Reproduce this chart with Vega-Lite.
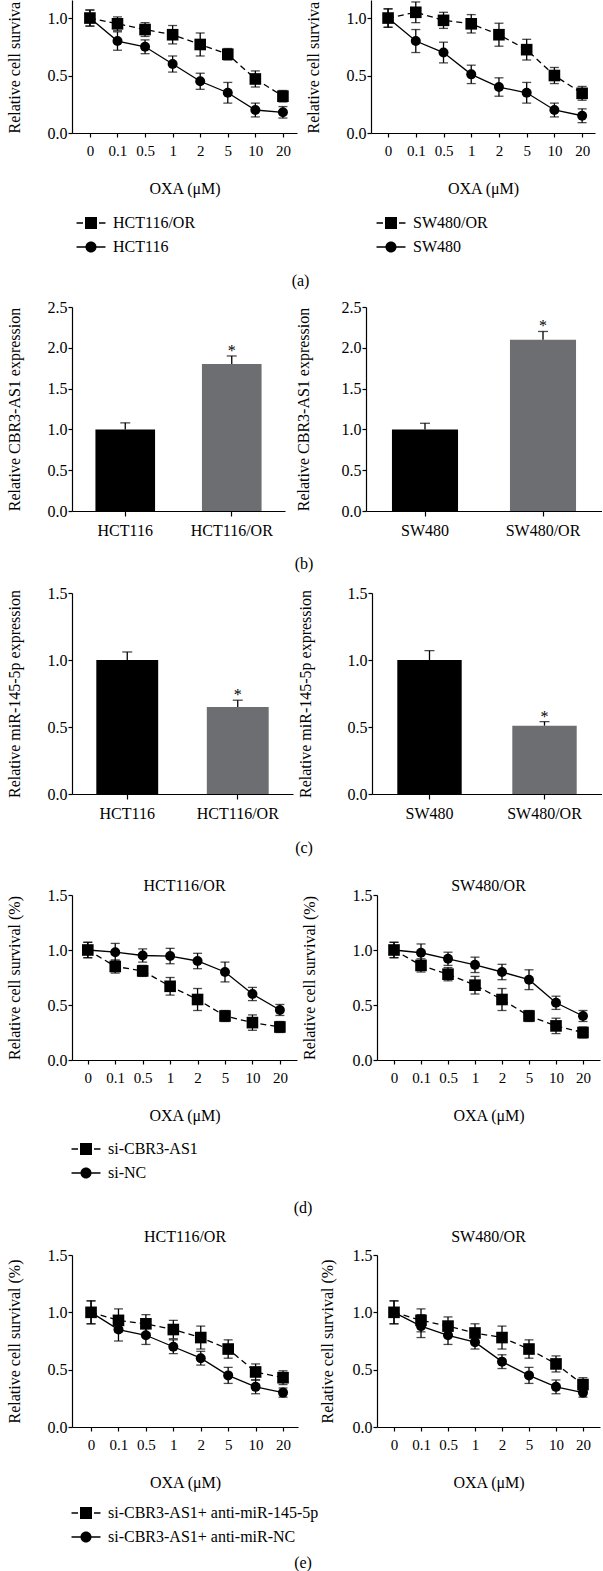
{
"$schema": "https://vega.github.io/schema/vega-lite/v6.json",
"padding": {"left": 6, "top": 0, "right": 0, "bottom": 0},
"config": {
  "font": "Liberation Serif",
  "view": {"stroke": null},
  "axis": {"domainColor": "#000", "tickColor": "#000", "labelColor": "#000", "titleColor": "#000", "titleFontWeight": "normal", "domainWidth": 1.2, "tickWidth": 1.2, "grid": false, "labelFont": "Liberation Serif", "titleFont": "Liberation Serif"},
  "legend": {"labelFont": "Liberation Serif", "labelFontSize": 16, "labelColor": "#000", "symbolSize": 256, "symbolStrokeWidth": 0, "symbolFillColor": "#000", "labelOffset": 14, "rowPadding": 8, "padding": 0, "labelLimit": 400},
  "title": {"font": "Liberation Serif", "fontSize": 16, "fontWeight": "normal", "color": "#000"}
},
"datasets": {
  "lines": [
    {"p":"a1","k":"sq","d":"0","v":1.0,"e":0.07},{"p":"a1","k":"sq","d":"0.1","v":0.95,"e":0.06},{"p":"a1","k":"sq","d":"0.5","v":0.90,"e":0.06},{"p":"a1","k":"sq","d":"1","v":0.855,"e":0.08},{"p":"a1","k":"sq","d":"2","v":0.77,"e":0.10},{"p":"a1","k":"sq","d":"5","v":0.685,"e":0.05},{"p":"a1","k":"sq","d":"10","v":0.47,"e":0.07},{"p":"a1","k":"sq","d":"20","v":0.32,"e":0.05},
    {"p":"a1","k":"ci","d":"0","v":1.0,"e":0.07},{"p":"a1","k":"ci","d":"0.1","v":0.80,"e":0.08},{"p":"a1","k":"ci","d":"0.5","v":0.75,"e":0.06},{"p":"a1","k":"ci","d":"1","v":0.60,"e":0.07},{"p":"a1","k":"ci","d":"2","v":0.45,"e":0.07},{"p":"a1","k":"ci","d":"5","v":0.35,"e":0.09},{"p":"a1","k":"ci","d":"10","v":0.20,"e":0.06},{"p":"a1","k":"ci","d":"20","v":0.18,"e":0.05},
    {"p":"a2","k":"sq","d":"0","v":1.0,"e":0.08},{"p":"a2","k":"sq","d":"0.1","v":1.05,"e":0.09},{"p":"a2","k":"sq","d":"0.5","v":0.98,"e":0.07},{"p":"a2","k":"sq","d":"1","v":0.95,"e":0.08},{"p":"a2","k":"sq","d":"2","v":0.855,"e":0.10},{"p":"a2","k":"sq","d":"5","v":0.725,"e":0.09},{"p":"a2","k":"sq","d":"10","v":0.50,"e":0.07},{"p":"a2","k":"sq","d":"20","v":0.345,"e":0.06},
    {"p":"a2","k":"ci","d":"0","v":1.0,"e":0.08},{"p":"a2","k":"ci","d":"0.1","v":0.80,"e":0.10},{"p":"a2","k":"ci","d":"0.5","v":0.70,"e":0.09},{"p":"a2","k":"ci","d":"1","v":0.51,"e":0.08},{"p":"a2","k":"ci","d":"2","v":0.40,"e":0.08},{"p":"a2","k":"ci","d":"5","v":0.35,"e":0.09},{"p":"a2","k":"ci","d":"10","v":0.20,"e":0.06},{"p":"a2","k":"ci","d":"20","v":0.15,"e":0.06},
    {"p":"d1","k":"sq","d":"0","v":1.0,"e":0.07},{"p":"d1","k":"sq","d":"0.1","v":0.85,"e":0.06},{"p":"d1","k":"sq","d":"0.5","v":0.81,"e":0.05},{"p":"d1","k":"sq","d":"1","v":0.67,"e":0.08},{"p":"d1","k":"sq","d":"2","v":0.55,"e":0.10},{"p":"d1","k":"sq","d":"5","v":0.40,"e":0.05},{"p":"d1","k":"sq","d":"10","v":0.34,"e":0.07},{"p":"d1","k":"sq","d":"20","v":0.30,"e":0.05},
    {"p":"d1","k":"ci","d":"0","v":1.0,"e":0.07},{"p":"d1","k":"ci","d":"0.1","v":0.98,"e":0.08},{"p":"d1","k":"ci","d":"0.5","v":0.95,"e":0.06},{"p":"d1","k":"ci","d":"1","v":0.945,"e":0.07},{"p":"d1","k":"ci","d":"2","v":0.90,"e":0.07},{"p":"d1","k":"ci","d":"5","v":0.80,"e":0.09},{"p":"d1","k":"ci","d":"10","v":0.60,"e":0.06},{"p":"d1","k":"ci","d":"20","v":0.455,"e":0.05},
    {"p":"d2","k":"sq","d":"0","v":1.0,"e":0.07},{"p":"d2","k":"sq","d":"0.1","v":0.86,"e":0.06},{"p":"d2","k":"sq","d":"0.5","v":0.78,"e":0.06},{"p":"d2","k":"sq","d":"1","v":0.68,"e":0.08},{"p":"d2","k":"sq","d":"2","v":0.55,"e":0.10},{"p":"d2","k":"sq","d":"5","v":0.40,"e":0.05},{"p":"d2","k":"sq","d":"10","v":0.31,"e":0.07},{"p":"d2","k":"sq","d":"20","v":0.25,"e":0.05},
    {"p":"d2","k":"ci","d":"0","v":1.0,"e":0.07},{"p":"d2","k":"ci","d":"0.1","v":0.975,"e":0.08},{"p":"d2","k":"ci","d":"0.5","v":0.92,"e":0.06},{"p":"d2","k":"ci","d":"1","v":0.865,"e":0.07},{"p":"d2","k":"ci","d":"2","v":0.80,"e":0.07},{"p":"d2","k":"ci","d":"5","v":0.73,"e":0.09},{"p":"d2","k":"ci","d":"10","v":0.52,"e":0.06},{"p":"d2","k":"ci","d":"20","v":0.40,"e":0.05},
    {"p":"e1","k":"sq","d":"0","v":1.0,"e":0.10},{"p":"e1","k":"sq","d":"0.1","v":0.93,"e":0.10},{"p":"e1","k":"sq","d":"0.5","v":0.90,"e":0.08},{"p":"e1","k":"sq","d":"1","v":0.85,"e":0.08},{"p":"e1","k":"sq","d":"2","v":0.78,"e":0.10},{"p":"e1","k":"sq","d":"5","v":0.68,"e":0.08},{"p":"e1","k":"sq","d":"10","v":0.48,"e":0.07},{"p":"e1","k":"sq","d":"20","v":0.43,"e":0.06},
    {"p":"e1","k":"ci","d":"0","v":1.0,"e":0.10},{"p":"e1","k":"ci","d":"0.1","v":0.85,"e":0.10},{"p":"e1","k":"ci","d":"0.5","v":0.80,"e":0.08},{"p":"e1","k":"ci","d":"1","v":0.70,"e":0.06},{"p":"e1","k":"ci","d":"2","v":0.60,"e":0.06},{"p":"e1","k":"ci","d":"5","v":0.45,"e":0.07},{"p":"e1","k":"ci","d":"10","v":0.35,"e":0.06},{"p":"e1","k":"ci","d":"20","v":0.30,"e":0.04},
    {"p":"e2","k":"sq","d":"0","v":1.0,"e":0.10},{"p":"e2","k":"sq","d":"0.1","v":0.93,"e":0.10},{"p":"e2","k":"sq","d":"0.5","v":0.88,"e":0.08},{"p":"e2","k":"sq","d":"1","v":0.82,"e":0.08},{"p":"e2","k":"sq","d":"2","v":0.78,"e":0.10},{"p":"e2","k":"sq","d":"5","v":0.68,"e":0.08},{"p":"e2","k":"sq","d":"10","v":0.55,"e":0.07},{"p":"e2","k":"sq","d":"20","v":0.37,"e":0.06},
    {"p":"e2","k":"ci","d":"0","v":1.0,"e":0.10},{"p":"e2","k":"ci","d":"0.1","v":0.88,"e":0.10},{"p":"e2","k":"ci","d":"0.5","v":0.80,"e":0.08},{"p":"e2","k":"ci","d":"1","v":0.74,"e":0.06},{"p":"e2","k":"ci","d":"2","v":0.57,"e":0.06},{"p":"e2","k":"ci","d":"5","v":0.45,"e":0.07},{"p":"e2","k":"ci","d":"10","v":0.35,"e":0.06},{"p":"e2","k":"ci","d":"20","v":0.30,"e":0.04}
  ],
  "bars": [
    {"p":"b1","g":"HCT116","c":"k","v":1.0,"hi":1.08,"sig":""},{"p":"b1","g":"HCT116/OR","c":"g","v":1.8,"hi":1.9,"sig":"*"},
    {"p":"b2","g":"SW480","c":"k","v":1.0,"hi":1.075,"sig":""},{"p":"b2","g":"SW480/OR","c":"g","v":2.1,"hi":2.2,"sig":"*"},
    {"p":"c1","g":"HCT116","c":"k","v":1.0,"hi":1.06,"sig":""},{"p":"c1","g":"HCT116/OR","c":"g","v":0.65,"hi":0.70,"sig":"*"},
    {"p":"c2","g":"SW480","c":"k","v":1.0,"hi":1.07,"sig":""},{"p":"c2","g":"SW480/OR","c":"g","v":0.51,"hi":0.54,"sig":"*"}
  ]
},
"spacing": 22,
"vconcat": [
 {"spacing": 10, "vconcat": [
  {"hconcat": [
    {"width": 225, "height": 133, "data": {"name": "lines"}, "transform": [{"filter": "datum.p == 'a1'"}],
     "encoding": {
       "x": {"field": "d", "type": "ordinal", "sort": ["0","0.1","0.5","1","2","5","10","20"], "scale": {"type": "point", "padding": 0.58, "align": 0.56}, "axis": {"title": "OXA (μM)", "labelAngle": 0, "labelFontSize": 15, "tickSize": 4, "labelPadding": 6, "titlePadding": 22, "titleFontSize": 16}},
       "y": {"field": "v", "type": "quantitative", "scale": {"domain": [0, 1.157], "nice": false}, "axis": {"title": "Relative cell surviva", "titleAnchor": "start", "values": [0, 0.5, 1], "format": ".1f", "labelFontSize": 16, "tickSize": 4, "labelPadding": 1, "minExtent": 30, "maxExtent": 30, "titlePadding": 20, "titleFontSize": 16}}
     },
     "layer": [
       {"transform": [{"filter": "datum.k == 'sq'"}], "mark": {"type": "line", "color": "#000", "strokeWidth": 1.3, "strokeDash": [6, 4]}},
       {"transform": [{"filter": "datum.k == 'ci'"}], "mark": {"type": "line", "color": "#000", "strokeWidth": 1.3}},
       {"mark": {"type": "errorbar", "ticks": true, "size": 9, "thickness": 1.3, "color": "#000"}, "encoding": {"yError": {"field": "e"}}},
       {"transform": [{"filter": "datum.k == 'sq'"}], "mark": {"type": "point", "shape": "square", "filled": true, "color": "#000", "size": 135, "opacity": 1}},
       {"transform": [{"filter": "datum.k == 'ci'"}], "mark": {"type": "point", "shape": "circle", "filled": true, "color": "#000", "size": 100, "opacity": 1}},
       {"transform": [{"filter": "false"}], "mark": {"type": "point", "filled": true, "fill": "#000", "size": 256, "opacity": 1},
        "encoding": {"shape": {"field": "s", "type": "nominal", "scale": {"domain": ["HCT116/OR", "HCT116"], "range": ["M-1.81,-0.09H-1V0.09H-1.81Z M1,-0.09H1.81V0.09H1Z M-0.75,-0.75H0.75V0.75H-0.75Z", "M-1.81,-0.09H-0.6V0.09H-1.81Z M0.6,-0.09H1.81V0.09H0.6Z M0.69,0A0.69,0.69,0,1,1,-0.69,0A0.69,0.69,0,1,1,0.69,0Z"]}, "legend": {"orient": "none", "legendX": 11, "legendY": 215, "title": null}}}}
     ]},
    {"width": 224, "height": 133, "data": {"name": "lines"}, "transform": [{"filter": "datum.p == 'a2'"}],
     "encoding": {
       "x": {"field": "d", "type": "ordinal", "sort": ["0","0.1","0.5","1","2","5","10","20"], "scale": {"type": "point", "padding": 0.54, "align": 0.57}, "axis": {"title": "OXA (μM)", "labelAngle": 0, "labelFontSize": 15, "tickSize": 4, "labelPadding": 6, "titlePadding": 22, "titleFontSize": 16}},
       "y": {"field": "v", "type": "quantitative", "scale": {"domain": [0, 1.157], "nice": false}, "axis": {"title": "Relative cell surviva", "titleAnchor": "start", "values": [0, 0.5, 1], "format": ".1f", "labelFontSize": 16, "tickSize": 4, "labelPadding": 1, "minExtent": 30, "maxExtent": 30, "titlePadding": 20, "titleFontSize": 16}}
     },
     "layer": [
       {"transform": [{"filter": "datum.k == 'sq'"}], "mark": {"type": "line", "color": "#000", "strokeWidth": 1.3, "strokeDash": [6, 4]}},
       {"transform": [{"filter": "datum.k == 'ci'"}], "mark": {"type": "line", "color": "#000", "strokeWidth": 1.3}},
       {"mark": {"type": "errorbar", "ticks": true, "size": 9, "thickness": 1.3, "color": "#000"}, "encoding": {"yError": {"field": "e"}}},
       {"transform": [{"filter": "datum.k == 'sq'"}], "mark": {"type": "point", "shape": "square", "filled": true, "color": "#000", "size": 135, "opacity": 1}},
       {"transform": [{"filter": "datum.k == 'ci'"}], "mark": {"type": "point", "shape": "circle", "filled": true, "color": "#000", "size": 100, "opacity": 1}},
       {"transform": [{"filter": "false"}], "mark": {"type": "point", "filled": true, "fill": "#000", "size": 256, "opacity": 1},
        "encoding": {"shape": {"field": "s", "type": "nominal", "scale": {"domain": ["SW480/OR", "SW480"], "range": ["M-1.81,-0.09H-1V0.09H-1.81Z M1,-0.09H1.81V0.09H1Z M-0.75,-0.75H0.75V0.75H-0.75Z", "M-1.81,-0.09H-0.6V0.09H-1.81Z M0.6,-0.09H1.81V0.09H0.6Z M0.69,0A0.69,0.69,0,1,1,-0.69,0A0.69,0.69,0,1,1,0.69,0Z"]}, "legend": {"orient": "none", "legendX": 12, "legendY": 215, "title": null}}}}
     ]}
   ],
   "spacing": 8,
   "resolve": {"scale": {"shape": "independent"}, "legend": {"shape": "independent"}},
   "title": {"text": "(a)", "orient": "bottom", "anchor": "middle", "offset": 18}
  },
  {"spacing": 13, "vconcat": [
  {"hconcat": [
    {"width": 213, "height": 204, "data": {"name": "bars"}, "transform": [{"filter": "datum.p == 'b1'"}],
     "encoding": {"x": {"field": "g", "type": "nominal", "sort": null, "scale": {"paddingInner": 0.44, "paddingOuter": 0.22}, "axis": {"title": null, "labelAngle": 0, "labelFontSize": 16, "tickSize": 5, "labelPadding": 6}},
       "y": {"field": "v", "type": "quantitative", "title": "Relative CBR3-AS1 expression", "scale": {"domain": [0, 2.5], "nice": false}, "axis": {"values": [0, 0.5, 1, 1.5, 2, 2.5], "format": ".1f", "labelFontSize": 16, "tickSize": 4, "labelPadding": 1, "minExtent": 30, "maxExtent": 30, "titlePadding": 20, "titleFontSize": 16}}},
     "layer": [
       {"mark": {"type": "bar"}, "encoding": {"color": {"field": "c", "type": "nominal", "scale": {"domain": ["k", "g"], "range": ["#000000", "#6d6e71"]}, "legend": null}}},
       {"mark": {"type": "rule", "color": "#000", "strokeWidth": 1.3}, "encoding": {"y2": {"field": "hi"}}},
       {"mark": {"type": "tick", "color": "#000", "thickness": 1.3, "size": 10}, "encoding": {"y": {"field": "hi", "type": "quantitative", "title": "Relative CBR3-AS1 expression"}}},
       {"mark": {"type": "text", "baseline": "alphabetic", "fontSize": 16, "color": "#000"}, "encoding": {"y": {"field": "hi", "type": "quantitative", "title": "Relative CBR3-AS1 expression"}, "text": {"field": "sig"}}}
     ]},
    {"width": 236, "height": 204, "data": {"name": "bars"}, "transform": [{"filter": "datum.p == 'b2'"}],
     "encoding": {"x": {"field": "g", "type": "nominal", "sort": null, "scale": {"paddingInner": 0.44, "paddingOuter": 0.22}, "axis": {"title": null, "labelAngle": 0, "labelFontSize": 16, "tickSize": 5, "labelPadding": 6}},
       "y": {"field": "v", "type": "quantitative", "title": "Relative CBR3-AS1 expression", "scale": {"domain": [0, 2.5], "nice": false}, "axis": {"values": [0, 0.5, 1, 1.5, 2, 2.5], "format": ".1f", "labelFontSize": 16, "tickSize": 4, "labelPadding": 1, "minExtent": 30, "maxExtent": 30, "titlePadding": 25, "titleFontSize": 16}}},
     "layer": [
       {"mark": {"type": "bar"}, "encoding": {"color": {"field": "c", "type": "nominal", "scale": {"domain": ["k", "g"], "range": ["#000000", "#6d6e71"]}, "legend": null}}},
       {"mark": {"type": "rule", "color": "#000", "strokeWidth": 1.3}, "encoding": {"y2": {"field": "hi"}}},
       {"mark": {"type": "tick", "color": "#000", "thickness": 1.3, "size": 10}, "encoding": {"y": {"field": "hi", "type": "quantitative", "title": "Relative CBR3-AS1 expression"}}},
       {"mark": {"type": "text", "baseline": "alphabetic", "fontSize": 16, "color": "#000"}, "encoding": {"y": {"field": "hi", "type": "quantitative", "title": "Relative CBR3-AS1 expression"}, "text": {"field": "sig"}}}
     ]}
   ],
   "spacing": 10,
   "title": {"text": "(b)", "orient": "bottom", "anchor": "middle", "offset": 18}
  },
  {"hconcat": [
    {"width": 221, "height": 201, "data": {"name": "bars"}, "transform": [{"filter": "datum.p == 'c1'"}],
     "encoding": {"x": {"field": "g", "type": "nominal", "sort": null, "scale": {"paddingInner": 0.44, "paddingOuter": 0.22}, "axis": {"title": null, "labelAngle": 0, "labelFontSize": 16, "tickSize": 5, "labelPadding": 6}},
       "y": {"field": "v", "type": "quantitative", "title": "Relative miR-145-5p expression", "scale": {"domain": [0, 1.5], "nice": false}, "axis": {"values": [0, 0.5, 1, 1.5], "format": ".1f", "labelFontSize": 16, "tickSize": 4, "labelPadding": 1, "minExtent": 30, "maxExtent": 30, "titlePadding": 20, "titleFontSize": 16}}},
     "layer": [
       {"mark": {"type": "bar"}, "encoding": {"color": {"field": "c", "type": "nominal", "scale": {"domain": ["k", "g"], "range": ["#000000", "#6d6e71"]}, "legend": null}}},
       {"mark": {"type": "rule", "color": "#000", "strokeWidth": 1.3}, "encoding": {"y2": {"field": "hi"}}},
       {"mark": {"type": "tick", "color": "#000", "thickness": 1.3, "size": 10}, "encoding": {"y": {"field": "hi", "type": "quantitative", "title": "Relative miR-145-5p expression"}}},
       {"mark": {"type": "text", "baseline": "alphabetic", "fontSize": 16, "color": "#000"}, "encoding": {"y": {"field": "hi", "type": "quantitative", "title": "Relative miR-145-5p expression"}, "text": {"field": "sig"}}}
     ]},
    {"width": 230, "height": 201, "data": {"name": "bars"}, "transform": [{"filter": "datum.p == 'c2'"}],
     "encoding": {"x": {"field": "g", "type": "nominal", "sort": null, "scale": {"paddingInner": 0.44, "paddingOuter": 0.22}, "axis": {"title": null, "labelAngle": 0, "labelFontSize": 16, "tickSize": 5, "labelPadding": 6}},
       "y": {"field": "v", "type": "quantitative", "title": "Relative miR-145-5p expression", "scale": {"domain": [0, 1.5], "nice": false}, "axis": {"values": [0, 0.5, 1, 1.5], "format": ".1f", "labelFontSize": 16, "tickSize": 4, "labelPadding": 1, "minExtent": 30, "maxExtent": 30, "titlePadding": 29, "titleFontSize": 16}}},
     "layer": [
       {"mark": {"type": "bar"}, "encoding": {"color": {"field": "c", "type": "nominal", "scale": {"domain": ["k", "g"], "range": ["#000000", "#6d6e71"]}, "legend": null}}},
       {"mark": {"type": "rule", "color": "#000", "strokeWidth": 1.3}, "encoding": {"y2": {"field": "hi"}}},
       {"mark": {"type": "tick", "color": "#000", "thickness": 1.3, "size": 10}, "encoding": {"y": {"field": "hi", "type": "quantitative", "title": "Relative miR-145-5p expression"}}},
       {"mark": {"type": "text", "baseline": "alphabetic", "fontSize": 16, "color": "#000"}, "encoding": {"y": {"field": "hi", "type": "quantitative", "title": "Relative miR-145-5p expression"}, "text": {"field": "sig"}}}
     ]}
   ],
   "spacing": 4,
   "title": {"text": "(c)", "orient": "bottom", "anchor": "middle", "offset": 19}
  }
  ]}
 ]},
 {"spacing": 13,
  "resolve": {"scale": {"shape": "independent"}, "legend": {"shape": "independent"}},
  "vconcat": [
  {"hconcat": [
    {"width": 225, "height": 165, "data": {"name": "lines"}, "transform": [{"filter": "datum.p == 'd1'"}],
     "title": {"text": "HCT116/OR", "offset": -7, "anchor": "middle", "frame": "group"},
     "encoding": {
       "x": {"field": "d", "type": "ordinal", "sort": ["0","0.1","0.5","1","2","5","10","20"], "scale": {"type": "point", "padding": 0.6, "align": 0.48}, "axis": {"title": "OXA (μM)", "labelAngle": 0, "labelFontSize": 15, "tickSize": 4, "labelPadding": 6, "titlePadding": 22, "titleFontSize": 16}},
       "y": {"field": "v", "type": "quantitative", "scale": {"domain": [0, 1.5], "nice": false}, "axis": {"title": "Relative cell survival (%)", "values": [0, 0.5, 1, 1.5], "format": ".1f", "labelFontSize": 16, "tickSize": 4, "labelPadding": 1, "minExtent": 30, "maxExtent": 30, "titlePadding": 20, "titleFontSize": 16}}
     },
     "layer": [
       {"transform": [{"filter": "datum.k == 'sq'"}], "mark": {"type": "line", "color": "#000", "strokeWidth": 1.3, "strokeDash": [6, 4]}},
       {"transform": [{"filter": "datum.k == 'ci'"}], "mark": {"type": "line", "color": "#000", "strokeWidth": 1.3}},
       {"mark": {"type": "errorbar", "ticks": true, "size": 9, "thickness": 1.3, "color": "#000"}, "encoding": {"yError": {"field": "e"}}},
       {"transform": [{"filter": "datum.k == 'sq'"}], "mark": {"type": "point", "shape": "square", "filled": true, "color": "#000", "size": 135, "opacity": 1}},
       {"transform": [{"filter": "datum.k == 'ci'"}], "mark": {"type": "point", "shape": "circle", "filled": true, "color": "#000", "size": 100, "opacity": 1}},
       {"transform": [{"filter": "false"}], "mark": {"type": "point", "filled": true, "fill": "#000", "size": 256, "opacity": 1},
        "encoding": {"shape": {"field": "s", "type": "nominal", "scale": {"domain": ["si-CBR3-AS1", "si-NC"], "range": ["M-1.81,-0.09H-1V0.09H-1.81Z M1,-0.09H1.81V0.09H1Z M-0.75,-0.75H0.75V0.75H-0.75Z", "M-1.81,-0.09H-0.6V0.09H-1.81Z M0.6,-0.09H1.81V0.09H0.6Z M0.69,0A0.69,0.69,0,1,1,-0.69,0A0.69,0.69,0,1,1,0.69,0Z"]}, "legend": {"orient": "none", "legendX": 6, "legendY": 246, "title": null}}}}
     ]},
    {"width": 223, "height": 165, "data": {"name": "lines"}, "transform": [{"filter": "datum.p == 'd2'"}],
     "title": {"text": "SW480/OR", "offset": -7, "anchor": "middle", "frame": "group"},
     "encoding": {
       "x": {"field": "d", "type": "ordinal", "sort": ["0","0.1","0.5","1","2","5","10","20"], "scale": {"type": "point", "padding": 0.63, "align": 0.5}, "axis": {"title": "OXA (μM)", "labelAngle": 0, "labelFontSize": 15, "tickSize": 4, "labelPadding": 6, "titlePadding": 22, "titleFontSize": 16}},
       "y": {"field": "v", "type": "quantitative", "scale": {"domain": [0, 1.5], "nice": false}, "axis": {"title": "Relative cell survival (%)", "values": [0, 0.5, 1, 1.5], "format": ".1f", "labelFontSize": 16, "tickSize": 4, "labelPadding": 1, "minExtent": 30, "maxExtent": 30, "titlePadding": 30, "titleFontSize": 16}}
     },
     "layer": [
       {"transform": [{"filter": "datum.k == 'sq'"}], "mark": {"type": "line", "color": "#000", "strokeWidth": 1.3, "strokeDash": [6, 4]}},
       {"transform": [{"filter": "datum.k == 'ci'"}], "mark": {"type": "line", "color": "#000", "strokeWidth": 1.3}},
       {"mark": {"type": "errorbar", "ticks": true, "size": 9, "thickness": 1.3, "color": "#000"}, "encoding": {"yError": {"field": "e"}}},
       {"transform": [{"filter": "datum.k == 'sq'"}], "mark": {"type": "point", "shape": "square", "filled": true, "color": "#000", "size": 135, "opacity": 1}},
       {"transform": [{"filter": "datum.k == 'ci'"}], "mark": {"type": "point", "shape": "circle", "filled": true, "color": "#000", "size": 100, "opacity": 1}}
     ]}
   ],
   "spacing": 4,
   "title": {"text": "(d)", "orient": "bottom", "anchor": "middle", "offset": 19}
  },
  {"hconcat": [
    {"width": 226, "height": 172, "data": {"name": "lines"}, "transform": [{"filter": "datum.p == 'e1'"}],
     "title": {"text": "HCT116/OR", "offset": 2, "anchor": "middle", "frame": "group"},
     "encoding": {
       "x": {"field": "d", "type": "ordinal", "sort": ["0","0.1","0.5","1","2","5","10","20"], "scale": {"type": "point", "padding": 0.62, "align": 0.56}, "axis": {"title": "OXA (μM)", "labelAngle": 0, "labelFontSize": 15, "tickSize": 4, "labelPadding": 6, "titlePadding": 22, "titleFontSize": 16}},
       "y": {"field": "v", "type": "quantitative", "scale": {"domain": [0, 1.5], "nice": false}, "axis": {"title": "Relative cell survival (%)", "values": [0, 0.5, 1, 1.5], "format": ".1f", "labelFontSize": 16, "tickSize": 4, "labelPadding": 1, "minExtent": 30, "maxExtent": 30, "titlePadding": 20, "titleFontSize": 16}}
     },
     "layer": [
       {"transform": [{"filter": "datum.k == 'sq'"}], "mark": {"type": "line", "color": "#000", "strokeWidth": 1.3, "strokeDash": [6, 4]}},
       {"transform": [{"filter": "datum.k == 'ci'"}], "mark": {"type": "line", "color": "#000", "strokeWidth": 1.3}},
       {"mark": {"type": "errorbar", "ticks": true, "size": 9, "thickness": 1.3, "color": "#000"}, "encoding": {"yError": {"field": "e"}}},
       {"transform": [{"filter": "datum.k == 'sq'"}], "mark": {"type": "point", "shape": "square", "filled": true, "color": "#000", "size": 135, "opacity": 1}},
       {"transform": [{"filter": "datum.k == 'ci'"}], "mark": {"type": "point", "shape": "circle", "filled": true, "color": "#000", "size": 100, "opacity": 1}},
       {"transform": [{"filter": "false"}], "mark": {"type": "point", "filled": true, "fill": "#000", "size": 256, "opacity": 1},
        "encoding": {"shape": {"field": "s", "type": "nominal", "scale": {"domain": ["si-CBR3-AS1+ anti-miR-145-5p", "si-CBR3-AS1+ anti-miR-NC"], "range": ["M-1.81,-0.09H-1V0.09H-1.81Z M1,-0.09H1.81V0.09H1Z M-0.75,-0.75H0.75V0.75H-0.75Z", "M-1.81,-0.09H-0.6V0.09H-1.81Z M0.6,-0.09H1.81V0.09H0.6Z M0.69,0A0.69,0.69,0,1,1,-0.69,0A0.69,0.69,0,1,1,0.69,0Z"]}, "legend": {"orient": "none", "legendX": 6, "legendY": 250, "title": null}}}}
     ]},
    {"width": 223, "height": 172, "data": {"name": "lines"}, "transform": [{"filter": "datum.p == 'e2'"}],
     "title": {"text": "SW480/OR", "offset": 2, "anchor": "middle", "frame": "group"},
     "encoding": {
       "x": {"field": "d", "type": "ordinal", "sort": ["0","0.1","0.5","1","2","5","10","20"], "scale": {"type": "point", "padding": 0.63, "align": 0.5}, "axis": {"title": "OXA (μM)", "labelAngle": 0, "labelFontSize": 15, "tickSize": 4, "labelPadding": 6, "titlePadding": 22, "titleFontSize": 16}},
       "y": {"field": "v", "type": "quantitative", "scale": {"domain": [0, 1.5], "nice": false}, "axis": {"title": "Relative cell survival (%)", "values": [0, 0.5, 1, 1.5], "format": ".1f", "labelFontSize": 16, "tickSize": 4, "labelPadding": 1, "minExtent": 30, "maxExtent": 30, "titlePadding": 12, "titleFontSize": 16}}
     },
     "layer": [
       {"transform": [{"filter": "datum.k == 'sq'"}], "mark": {"type": "line", "color": "#000", "strokeWidth": 1.3, "strokeDash": [6, 4]}},
       {"transform": [{"filter": "datum.k == 'ci'"}], "mark": {"type": "line", "color": "#000", "strokeWidth": 1.3}},
       {"mark": {"type": "errorbar", "ticks": true, "size": 9, "thickness": 1.3, "color": "#000"}, "encoding": {"yError": {"field": "e"}}},
       {"transform": [{"filter": "datum.k == 'sq'"}], "mark": {"type": "point", "shape": "square", "filled": true, "color": "#000", "size": 135, "opacity": 1}},
       {"transform": [{"filter": "datum.k == 'ci'"}], "mark": {"type": "point", "shape": "circle", "filled": true, "color": "#000", "size": 100, "opacity": 1}}
     ]}
   ],
   "spacing": 21,
   "title": {"text": "(e)", "orient": "bottom", "anchor": "middle", "offset": 10}
  }
 ]}
]
}
